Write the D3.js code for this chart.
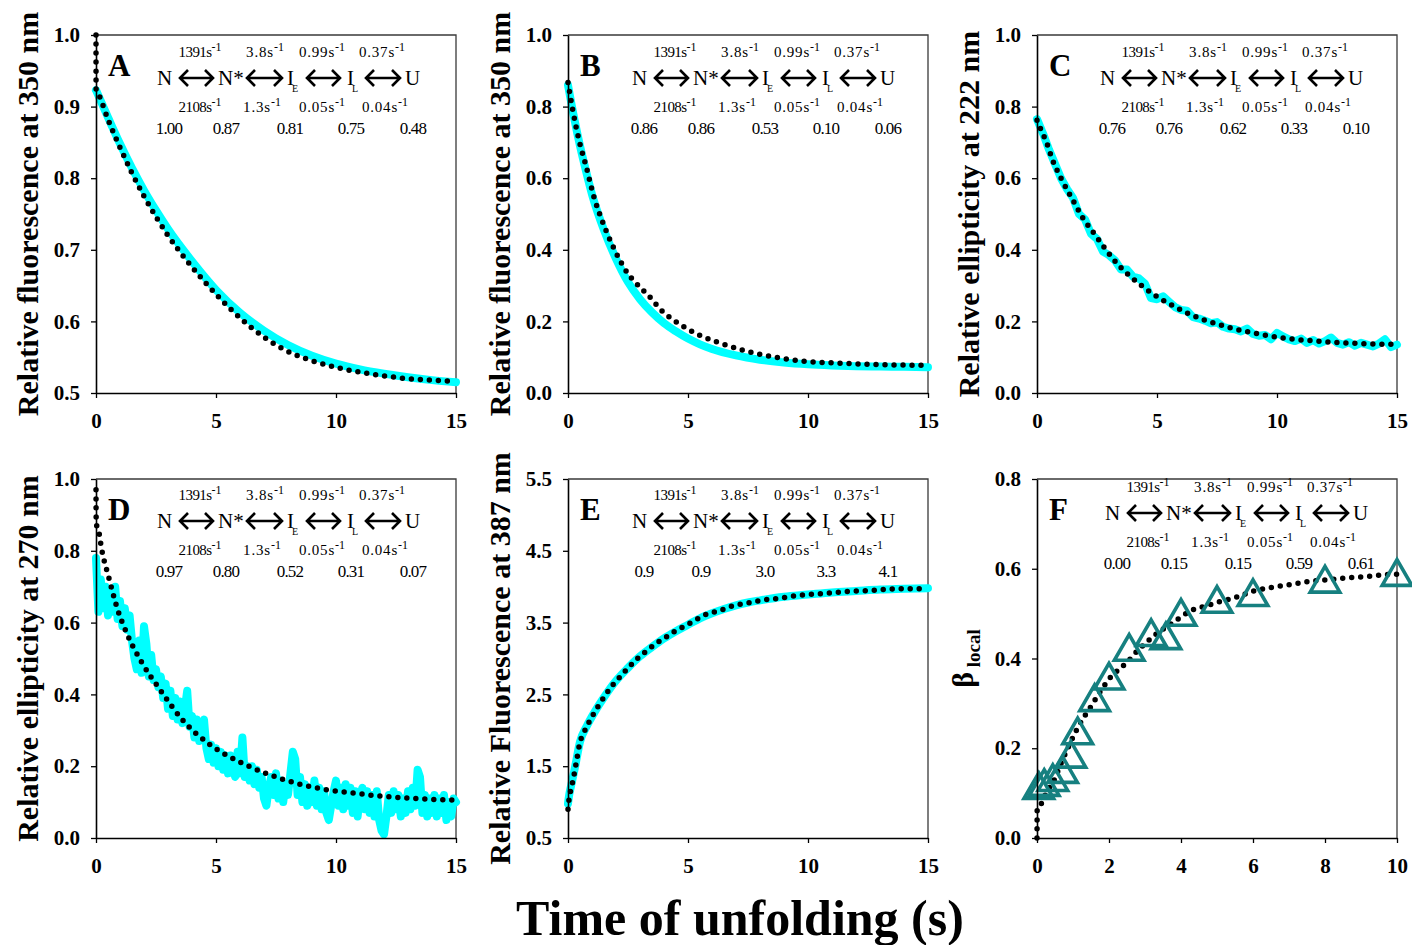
<!DOCTYPE html>
<html>
<head>
<meta charset="utf-8">
<script src="https://cdn.jsdelivr.net/npm/d3@7"></script>
<style>
  body { margin: 0; background: #fff; }
  svg { display: block; }
  text { font-family: "Liberation Serif", "Times New Roman", serif; }
</style>
</head>
<body>
<svg id="fig" width="1412" height="945"></svg>
<script>
// ---------------- data ----------------
// Kinetic scheme shared by all panels
const rateForward = ["1391", "3.8", "0.99", "0.37"];
const rateBackward = ["2108", "1.3", "0.05", "0.04"];
const species = ["N", "N*", "I", "I", "U"];
const speciesSub = ["", "", "E", "L", ""];

// Relative signal of each species, per panel
const ampA = ["1.00", "0.87", "0.81", "0.75", "0.48"];
const ampB = ["0.86", "0.86", "0.53", "0.10", "0.06"];
const ampC = ["0.76", "0.76", "0.62", "0.33", "0.10"];
const ampD = ["0.97", "0.80", "0.52", "0.31", "0.07"];
const ampE = ["0.9", "0.9", "3.0", "3.3", "4.1"];
const ampF = ["0.00", "0.15", "0.15", "0.59", "0.61"];

// Axis ticks
const ticksTime15 = [0, 5, 10, 15];
const ticksTime10 = [0, 2, 4, 6, 8, 10];
const ticksA = [0.5, 0.6, 0.7, 0.8, 0.9, 1.0];
const ticksUnit = [0, 0.2, 0.4, 0.6, 0.8, 1.0];
const ticksE = [0.5, 1.5, 2.5, 3.5, 4.5, 5.5];
const ticksF = [0, 0.2, 0.4, 0.6, 0.8];

// Panel A: fluorescence 350 nm
const aFitT = [0, 0.0005, 0.001, 0.002, 0.004, 0.1, 0.5, 1, 1.5, 2, 2.5, 3, 3.5, 4, 5, 6, 7, 8, 9, 10, 11, 12, 13, 14, 15];
const aFitV = [1.0, 0.975, 0.955, 0.935, 0.924, 0.918, 0.882, 0.843, 0.807, 0.775, 0.746, 0.720, 0.697, 0.676, 0.638, 0.605, 0.578, 0.558, 0.545, 0.536, 0.529, 0.524, 0.520, 0.518, 0.516];
const aDataT = [0, 0.5, 1, 1.5, 2, 2.5, 3, 4, 5, 6, 7, 8, 9, 10, 11, 12, 13, 14, 15];
const aDataV = [0.923, 0.885, 0.848, 0.814, 0.783, 0.755, 0.729, 0.684, 0.644, 0.612, 0.587, 0.567, 0.552, 0.541, 0.533, 0.527, 0.522, 0.518, 0.515];

// Panel B: fluorescence 350 nm
const bFitT = [0, 0.21, 0.46, 0.76, 1.08, 1.39, 1.85, 2.09, 2.5, 2.85, 3.41, 3.89, 4.66, 5.49, 6.26, 7.44, 8.55, 9.8, 11.06, 12.59, 15];
const bFitV = [0.867, 0.786, 0.706, 0.632, 0.548, 0.487, 0.413, 0.380, 0.333, 0.306, 0.268, 0.231, 0.192, 0.161, 0.141, 0.117, 0.101, 0.089, 0.084, 0.080, 0.077];
const bDataT = [0, 0.25, 0.5, 0.75, 1, 1.5, 2, 2.5, 3, 3.5, 4, 4.5, 5, 5.5, 6, 7, 8, 9, 10, 11, 12, 13, 14, 15];
const bDataV = [0.860, 0.770, 0.690, 0.620, 0.555, 0.455, 0.375, 0.310, 0.262, 0.225, 0.195, 0.172, 0.152, 0.136, 0.123, 0.105, 0.093, 0.085, 0.080, 0.077, 0.075, 0.074, 0.073, 0.072];

// Panel C: ellipticity 222 nm
const cFitT = [0, 0.2, 0.4, 0.625, 1.0, 1.46, 1.9, 2.43, 2.9, 3.33, 3.9, 4.51, 5.1, 5.72, 6.3, 6.92, 7.5, 8.06, 8.7, 9.31, 10.44, 11.64, 12.8, 14, 15];
const cFitV = [0.762, 0.730, 0.700, 0.655, 0.600, 0.543, 0.490, 0.441, 0.398, 0.362, 0.325, 0.292, 0.265, 0.242, 0.222, 0.205, 0.193, 0.182, 0.172, 0.164, 0.152, 0.145, 0.140, 0.137, 0.136];
const cDataStep = 0.25;
const cDataV = [0.765, 0.725, 0.680, 0.640, 0.600, 0.570, 0.545, 0.500, 0.485, 0.445, 0.430, 0.395, 0.385, 0.370, 0.345, 0.345,
  0.325, 0.320, 0.305, 0.265, 0.262, 0.270, 0.255, 0.240, 0.232, 0.230, 0.212, 0.208, 0.202, 0.195, 0.198, 0.185,
  0.180, 0.178, 0.172, 0.180, 0.165, 0.160, 0.162, 0.150, 0.168, 0.158, 0.150, 0.145, 0.152, 0.140, 0.148, 0.138,
  0.145, 0.155, 0.140, 0.135, 0.142, 0.132, 0.140, 0.135, 0.130, 0.138, 0.150, 0.128, 0.135];

// Panel D: ellipticity 270 nm
const dFitT = [0, 0.002, 0.005, 0.01, 0.1, 0.24, 0.52, 0.86, 1.31, 1.91, 2.67, 3.58, 4.69, 5.95, 7.13, 8.31, 9.57, 10.75, 11.94, 13.12, 14.3, 15];
const dFitV = [0.97, 0.93, 0.90, 0.875, 0.859, 0.803, 0.729, 0.645, 0.566, 0.489, 0.413, 0.331, 0.263, 0.213, 0.179, 0.153, 0.135, 0.125, 0.116, 0.111, 0.107, 0.106];
const dDataStep = 0.1;
const dDataV = [
  0.78, 0.63, 0.72, 0.64, 0.70, 0.62, 0.68, 0.63, 0.70, 0.61,
  0.66, 0.59, 0.64, 0.58, 0.62, 0.55, 0.50, 0.47, 0.55, 0.46,
  0.59, 0.54, 0.45, 0.51, 0.44, 0.47, 0.42, 0.45, 0.39, 0.43,
  0.36, 0.41, 0.34, 0.39, 0.33, 0.38, 0.32, 0.36, 0.41, 0.31,
  0.34, 0.28, 0.33, 0.27, 0.31, 0.33, 0.25, 0.22, 0.26, 0.21,
  0.25, 0.20, 0.24, 0.19, 0.23, 0.18, 0.23, 0.19, 0.17, 0.24,
  0.18, 0.28, 0.17, 0.20, 0.16, 0.20, 0.15, 0.19, 0.14, 0.17,
  0.11, 0.09, 0.14, 0.17, 0.12, 0.18, 0.11, 0.16, 0.10, 0.15,
  0.12, 0.18, 0.24, 0.22, 0.12, 0.17, 0.10, 0.15, 0.09, 0.14,
  0.10, 0.16, 0.09, 0.14, 0.08, 0.13, 0.07, 0.05, 0.09, 0.13,
  0.16, 0.09, 0.14, 0.08, 0.15, 0.09, 0.14, 0.07, 0.13, 0.06,
  0.12, 0.14, 0.08, 0.13, 0.07, 0.12, 0.06, 0.13, 0.05, 0.02,
  0.01, 0.06, 0.12, 0.07, 0.13, 0.08, 0.12, 0.06, 0.11, 0.07,
  0.13, 0.08, 0.14, 0.09, 0.19, 0.17, 0.07, 0.12, 0.06, 0.11,
  0.07, 0.12, 0.06, 0.11, 0.07, 0.12, 0.05, 0.10, 0.06, 0.11,
  0.10];

// Panel E: fluorescence 387 nm
const eFitT = [0, 0.04, 0.11, 0.2, 0.28, 0.38, 0.49, 0.65, 0.84, 1.05, 1.54, 1.81, 2.16, 2.51, 2.86, 3.25, 3.67, 4.05, 4.46, 4.85, 5.23, 5.65, 6.03, 6.42, 6.84, 7.23, 7.63, 8.02, 8.82, 9.63, 10.4, 11.2, 12.0, 12.8, 13.6, 14.4, 15];
const eFitV = [0.90, 1.03, 1.16, 1.29, 1.43, 1.62, 1.82, 1.96, 2.09, 2.22, 2.48, 2.61, 2.74, 2.87, 2.99, 3.10, 3.21, 3.29, 3.38, 3.45, 3.52, 3.60, 3.64, 3.68, 3.73, 3.76, 3.78, 3.81, 3.84, 3.88, 3.90, 3.92, 3.94, 3.95, 3.97, 3.97, 3.98];
const eDataT = [0, 0.05, 0.15, 0.3, 0.5, 0.8, 1.1, 1.5, 2, 2.5, 3, 3.5, 4, 4.5, 5, 5.5, 6, 6.5, 7, 7.5, 8, 9, 10, 11, 12, 13, 14, 15];
const eDataV = [0.98, 1.10, 1.26, 1.50, 1.84, 2.07, 2.25, 2.46, 2.69, 2.87, 3.03, 3.16, 3.28, 3.38, 3.47, 3.56, 3.63, 3.69, 3.74, 3.78, 3.81, 3.86, 3.89, 3.92, 3.94, 3.96, 3.97, 3.98];

// Panel F: local beta content
const fFitT = [0, 0.002, 0.005, 0.16, 0.25, 0.44, 0.67, 0.9, 1.18, 1.5, 1.82, 2.06, 2.33, 2.6, 2.8, 3.07, 3.35, 3.63, 3.9, 4.1, 4.35, 4.65, 5.0, 5.48, 6.0, 6.5, 7.06, 7.6, 8.17, 8.68, 9.19, 9.7, 10];
const fFitV = [0, 0.03, 0.063, 0.082, 0.100, 0.123, 0.167, 0.208, 0.253, 0.293, 0.334, 0.360, 0.379, 0.400, 0.418, 0.438, 0.457, 0.472, 0.487, 0.498, 0.509, 0.516, 0.525, 0.535, 0.550, 0.558, 0.565, 0.572, 0.576, 0.580, 0.583, 0.587, 0.588];
const fObsT = [0.05, 0.2, 0.44, 0.71, 0.94, 1.13, 1.6, 2.0, 2.56, 3.17, 3.58, 4.0, 5.0, 6.0, 8.0, 10.0];
const fObsV = [0.107, 0.114, 0.125, 0.143, 0.177, 0.229, 0.303, 0.351, 0.415, 0.448, 0.441, 0.493, 0.522, 0.537, 0.567, 0.582];

// ---------------- drawing ----------------
const svg = d3.select("#fig");
const CYAN = "#00ffff";
const TEAL = "#168080";

function zip(ts, vs) { return ts.map((t, i) => [t, vs[i]]); }
function stepped(step, vs) { return vs.map((v, i) => [i * step, v]); }

function arrow(g, x1, x2, y) {
  const h = 8, w = 8;
  g.append("path")
    .attr("d", `M${x1},${y}L${x2},${y}M${x1 + w},${y - h}L${x1},${y}L${x1 + w},${y + h}M${x2 - w},${y - h}L${x2},${y}L${x2 - w},${y + h}`)
    .attr("fill", "none").attr("stroke", "#000").attr("stroke-width", 2.6);
}

function scheme(g, nx, by, amps) {
  const spX = [0, 61, 130, 190, 248];
  const arX = [[23, 56], [90, 125], [150, 183], [209, 243]];
  const topX = [43, 108, 165, 225];
  const botX = [43, 105, 165, 228];
  const ampX = [12, 69, 133, 194, 256];
  species.forEach((s, i) => {
    g.append("text").attr("x", nx + spX[i]).attr("y", by)
      .attr("font-size", 21).text(s);
    if (speciesSub[i]) {
      g.append("text").attr("x", nx + spX[i] + 5).attr("y", by + 7)
        .attr("font-size", 10).text(speciesSub[i]);
    }
  });
  arX.forEach(a => arrow(g, nx + a[0], nx + a[1], by - 7));
  const rate = (txt, x, y) => {
    const t = g.append("text").attr("x", x).attr("y", y)
      .attr("text-anchor", "middle").attr("font-size", 15)
      .attr("letter-spacing", txt.includes(".") ? 0.8 : -0.6);
    t.append("tspan").text(txt + "s");
    t.append("tspan").attr("font-size", 12).attr("dy", -6).attr("letter-spacing", 0).text("-1");
  };
  rateForward.forEach((r, i) => rate(r, nx + topX[i], by - 28));
  rateBackward.forEach((r, i) => rate(r, nx + botX[i], by + 27));
  amps.forEach((a, i) => {
    g.append("text").attr("x", nx + ampX[i]).attr("y", by + 49)
      .attr("text-anchor", "middle").attr("font-size", 17)
      .attr("letter-spacing", -0.8).text(a);
  });
}

function panel(c) {
  const g = svg.append("g");
  const x = d3.scaleLinear().domain(c.xDomain).range([c.left, c.left + c.w]);
  const y = d3.scaleLinear().domain(c.yDomain).range([c.top + c.h, c.top]);

  // frame top/right
  g.append("path")
    .attr("d", `M${c.left},${c.top}H${c.left + c.w}V${c.top + c.h}`)
    .attr("fill", "none").attr("stroke", "#3a3a3a").attr("stroke-width", 1.3);

  const line = d3.line().x(d => x(d[0])).y(d => y(d[1]));

  if (c.data) {
    g.append("path")
      .attr("d", line.curve(c.dataCurve)(c.data))
      .attr("fill", "none").attr("stroke", CYAN).attr("stroke-width", 8)
      .attr("stroke-linejoin", "round").attr("stroke-linecap", "round");
  }

  g.append("path")
    .attr("d", d3.line().x(d => x(d[0])).y(d => y(d[1])).curve(d3.curveMonotoneX)(c.fit))
    .attr("fill", "none").attr("stroke", "#000").attr("stroke-width", 5.5)
    .attr("stroke-linecap", "round").attr("stroke-dasharray", "0 9");

  if (c.obs) {
    g.selectAll("path.obs").data(c.obs).join("path").attr("class", "obs")
      .attr("d", d3.symbol(d3.symbolTriangle, 380)())
      .attr("transform", d => `translate(${x(d[0])},${y(d[1])})`)
      .attr("fill", "none").attr("stroke", TEAL).attr("stroke-width", 3.6)
      .attr("stroke-linejoin", "miter");
  }

  const styleAxis = sel => {
    sel.attr("font-family", null).attr("font-size", null);
    sel.select(".domain").attr("stroke", "#000").attr("stroke-width", 1.6);
    sel.selectAll(".tick line").attr("stroke", "#000").attr("stroke-width", 1.3);
    sel.selectAll(".tick text").attr("font-size", 21).attr("font-weight", "bold").attr("fill", "#000");
  };
  g.append("g").attr("transform", `translate(0,${c.top + c.h})`)
    .call(d3.axisBottom(x).tickValues(c.xTicks).tickFormat(d3.format("d"))
      .tickSize(5).tickPadding(15).tickSizeOuter(0))
    .call(styleAxis);
  g.append("g").attr("transform", `translate(${c.left},0)`)
    .call(d3.axisLeft(y).tickValues(c.yTicks).tickFormat(d3.format(".1f"))
      .tickSize(5).tickPadding(11).tickSizeOuter(0))
    .call(styleAxis);

  // y title
  const ty = g.append("text")
    .attr("transform", `translate(${c.left - 58},${c.top + c.h / 2}) rotate(-90)`)
    .attr("text-anchor", "middle").attr("font-weight", "bold").attr("font-size", 30);
  if (c.ylabel) {
    ty.text(c.ylabel);
  } else {
    ty.attr("transform", `translate(${c.left - 64},${c.top + c.h / 2}) rotate(-90)`);
    ty.append("tspan").text("β");
    ty.append("tspan").attr("font-size", 19).attr("dy", 7).text(" local");
  }

  // panel letter
  g.append("text").attr("x", c.left + 12).attr("y", c.top + 41)
    .attr("font-size", 31).attr("font-weight", "bold").text(c.letter);

  scheme(g, c.left + c.nx, c.top + c.by, c.amps);
}

const W = 360, H1 = 358, H2 = 359;
const col = [96, 568, 1037];
const row = [35, 479];

panel({ left: col[0], top: row[0], w: W, h: H1, xDomain: [0, 15], yDomain: [0.5, 1.0],
  xTicks: ticksTime15, yTicks: ticksA, ylabel: "Relative fluorescence at 350 nm", letter: "A",
  fit: zip(aFitT, aFitV), data: zip(aDataT, aDataV), dataCurve: d3.curveMonotoneX,
  amps: ampA, nx: 61, by: 50 });
panel({ left: col[1], top: row[0], w: W, h: H1, xDomain: [0, 15], yDomain: [0, 1.0],
  xTicks: ticksTime15, yTicks: ticksUnit, ylabel: "Relative fluorescence at 350 nm", letter: "B",
  fit: zip(bFitT, bFitV), data: zip(bDataT, bDataV), dataCurve: d3.curveMonotoneX,
  amps: ampB, nx: 64, by: 50 });
panel({ left: col[2], top: row[0], w: W, h: H1, xDomain: [0, 15], yDomain: [0, 1.0],
  xTicks: ticksTime15, yTicks: ticksUnit, ylabel: "Relative ellipticity at 222 nm", letter: "C",
  fit: zip(cFitT, cFitV), data: stepped(cDataStep, cDataV), dataCurve: d3.curveLinear,
  amps: ampC, nx: 63, by: 50 });
panel({ left: col[0], top: row[1], w: W, h: H2, xDomain: [0, 15], yDomain: [0, 1.0],
  xTicks: ticksTime15, yTicks: ticksUnit, ylabel: "Relative ellipticity at 270 nm", letter: "D",
  fit: zip(dFitT, dFitV), data: stepped(dDataStep, dDataV), dataCurve: d3.curveLinear,
  amps: ampD, nx: 61, by: 49 });
panel({ left: col[1], top: row[1], w: W, h: H2, xDomain: [0, 15], yDomain: [0.5, 5.5],
  xTicks: ticksTime15, yTicks: ticksE, ylabel: "Relative Fluorescence at 387 nm", letter: "E",
  fit: zip(eFitT, eFitV), data: zip(eDataT, eDataV), dataCurve: d3.curveMonotoneX,
  amps: ampE, nx: 64, by: 49 });
panel({ left: col[2], top: row[1], w: W, h: H2, xDomain: [0, 10], yDomain: [0, 0.8],
  xTicks: ticksTime10, yTicks: ticksF, ylabel: null, letter: "F",
  fit: zip(fFitT, fFitV), obs: zip(fObsT, fObsV),
  amps: ampF, nx: 68, by: 41 });

// shared x title
svg.append("text").attr("x", 740).attr("y", 935).attr("text-anchor", "middle")
  .attr("font-size", 50).attr("font-weight", "bold").text("Time of unfolding (s)");
</script>
</body>
</html>
